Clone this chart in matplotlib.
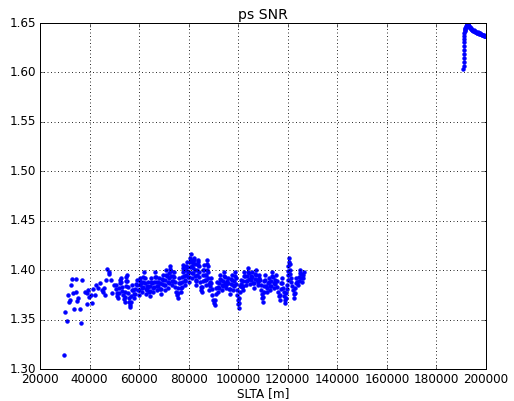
import matplotlib
matplotlib.use('Agg')
import matplotlib.pyplot as plt

# ==================== data ====================
# sparse start of the track (x in m)
slta_start = [29700, 30240, 30800, 31200, 31860, 32000, 32540, 33070, 33470, 33880,
              34440, 34690, 35100, 35500, 36180, 36710, 37120, 38200, 38900, 39130,
              39540, 39800, 40500, 40900, 41560, 42200, 42780, 43530, 44270, 44900,
              45300, 46000, 46200, 46570, 46980, 47700, 47750, 48720, 49250, 49800]
snr_start = [1.3142, 1.3574, 1.3489, 1.3746, 1.3678, 1.3698, 1.3847, 1.3907, 1.3766, 1.3604,
             1.3776, 1.3907, 1.3690, 1.3715, 1.3610, 1.3468, 1.3900, 1.3782, 1.3770, 1.3655,
             1.3800, 1.3725, 1.3745, 1.3670, 1.3806, 1.3748, 1.3850, 1.3817, 1.3866, 1.3795,
             1.3780, 1.3816, 1.3750, 1.3900, 1.4009, 1.3985, 1.3962, 1.3900, 1.3766, 1.3850]

# dense part of the track
slta_mid = [
    50500, 50750, 51000, 51250, 51500, 51700, 51900, 52100, 52300, 52500,
    52750, 53000, 53250, 53500, 53850, 54200, 54350, 54500, 54650, 54800,
    54900, 55000, 55200, 55400, 55600, 55800, 56100, 56300, 56500, 56700,
    56900, 57100, 57300, 57550, 57800, 58000, 58250, 58500, 58750, 59000,
    59250, 59500, 59800, 60000, 60200, 60350, 60500, 60750, 61000, 61300,
    61450, 61600, 61750, 62000, 62200, 62400, 62600, 62800, 63050, 63300,
    63500, 63750, 64000, 64300, 64450, 64600, 64800, 65000, 65250, 65500,
    65800, 65950, 66100, 66300, 66500, 66700, 66900, 67100, 67300, 67550,
    67800, 68000, 68250, 68500, 68800, 68950, 69100, 69300, 69500, 69750,
    70000, 70300, 70450, 70600, 70800, 71000, 71250, 71500, 71800, 71950,
    72100, 72250, 72400, 72500, 72700, 72900, 73100, 73300, 73500, 73750,
    74000, 74200, 74400, 74600, 74800, 75150, 75500, 75700, 75900, 76100,
    76300, 76550, 76800, 77000, 77150, 77300, 77450, 77600, 77700, 77800,
    78000, 78200, 78400, 78500, 78650, 78800, 78950, 79100, 79200, 79400,
    79600, 79800, 80000, 80150, 80300, 80450, 80600, 80700, 80800, 81000,
    81200, 81400, 81500, 81650, 81800, 81950, 82100, 82200, 82400, 82550,
    82700, 82850, 83000, 83150, 83300, 83450, 83600, 83700, 83800, 84000,
    84200, 84350, 84500, 84900, 85100, 85300, 85450, 85600, 85750, 85900,
    86000, 86200, 86400, 86600, 86800, 86950, 87100, 87250, 87400, 87500,
    87700, 87850, 88000, 88150, 88300, 88550, 88800, 89000, 89200, 89400,
    89600, 89800, 90150, 90500, 90700, 90900, 91100, 91300, 91650, 92000,
    92200, 92400, 92600, 92800, 93050, 93300, 93500, 93700, 93900, 94100,
    94300, 94550, 94800, 95000, 95250, 95500, 95800, 96050, 96300, 96500,
    96700, 96900, 97100, 97300, 97550, 97800, 98000, 98200, 98400, 98600,
    98800, 99000, 99200, 99350, 99500, 99750, 100000, 100200, 100350, 100500,
    100650, 100800, 101000, 101300, 101550, 101800, 101950, 102100, 102300, 102500,
    102750, 103000, 103300, 103450, 103600, 103800, 104000, 104250, 104500, 104800,
    105050, 105300, 105500, 105750, 106000, 106300, 106450, 106600, 106800, 107000,
    107250, 107500, 107800, 108050, 108300, 108500, 108750, 109000, 109300, 109550,
    109800, 110000, 110150, 110300, 110450, 110600, 110800, 111000, 111200, 111500,
    111750, 112000, 112300, 112550, 112800, 113000, 113200, 113400, 113600, 113800,
    114050, 114300, 114500, 114750, 115000, 115300, 115550, 115800, 116000, 116400,
    116800, 116950, 117100, 117300, 117500, 117750, 118000, 118300, 118550, 118800,
    119000, 119200, 119400, 119600, 119800, 119900, 120000, 120100, 120250, 120400,
    120500, 120700, 120900, 121050, 121200, 121450, 121700, 122000, 122350, 122700,
    122850, 123000, 123200, 123400, 123800, 124200, 124400, 124600, 124800, 125000,
    125250, 125500, 125800, 126050, 126300, 126500]
snr_mid = [
    1.385, 1.381, 1.377, 1.374, 1.372, 1.377, 1.382, 1.387, 1.390, 1.392,
    1.388, 1.383, 1.379, 1.375, 1.371, 1.368, 1.373, 1.378, 1.384, 1.389,
    1.393, 1.395, 1.389, 1.383, 1.377, 1.372, 1.368, 1.365, 1.363, 1.368,
    1.374, 1.380, 1.385, 1.380, 1.376, 1.372, 1.376, 1.381, 1.386, 1.390,
    1.385, 1.380, 1.375, 1.380, 1.385, 1.389, 1.392, 1.387, 1.382, 1.378,
    1.383, 1.388, 1.393, 1.398, 1.392, 1.387, 1.381, 1.376, 1.380, 1.384,
    1.388, 1.383, 1.378, 1.374, 1.379, 1.384, 1.388, 1.392, 1.387, 1.382,
    1.378, 1.383, 1.388, 1.393, 1.398, 1.393, 1.388, 1.384, 1.380, 1.384,
    1.388, 1.392, 1.387, 1.381, 1.376, 1.381, 1.386, 1.391, 1.395, 1.390,
    1.385, 1.380, 1.385, 1.390, 1.395, 1.400, 1.394, 1.388, 1.382, 1.387,
    1.392, 1.397, 1.401, 1.404, 1.399, 1.394, 1.389, 1.385, 1.389, 1.394,
    1.398, 1.393, 1.388, 1.383, 1.378, 1.375, 1.372, 1.377, 1.382, 1.387,
    1.392, 1.387, 1.382, 1.378, 1.383, 1.388, 1.393, 1.398, 1.402, 1.405,
    1.400, 1.394, 1.389, 1.385, 1.390, 1.395, 1.400, 1.404, 1.408, 1.403,
    1.398, 1.393, 1.388, 1.393, 1.398, 1.403, 1.408, 1.412, 1.416, 1.410,
    1.404, 1.397, 1.392, 1.397, 1.402, 1.407, 1.410, 1.412, 1.406, 1.400,
    1.394, 1.389, 1.385, 1.390, 1.395, 1.400, 1.405, 1.408, 1.410, 1.404,
    1.398, 1.393, 1.388, 1.383, 1.380, 1.378, 1.383, 1.389, 1.395, 1.400,
    1.405, 1.400, 1.395, 1.390, 1.385, 1.390, 1.395, 1.400, 1.406, 1.410,
    1.404, 1.398, 1.392, 1.386, 1.380, 1.384, 1.388, 1.392, 1.387, 1.381,
    1.375, 1.370, 1.367, 1.365, 1.370, 1.376, 1.382, 1.388, 1.383, 1.378,
    1.382, 1.387, 1.391, 1.395, 1.390, 1.385, 1.380, 1.384, 1.389, 1.394,
    1.398, 1.393, 1.387, 1.382, 1.385, 1.389, 1.392, 1.387, 1.381, 1.376,
    1.381, 1.386, 1.391, 1.395, 1.390, 1.385, 1.380, 1.384, 1.389, 1.394,
    1.398, 1.392, 1.386, 1.380, 1.375, 1.370, 1.366, 1.362, 1.367, 1.372,
    1.378, 1.384, 1.390, 1.386, 1.383, 1.380, 1.384, 1.389, 1.394, 1.398,
    1.394, 1.389, 1.385, 1.389, 1.394, 1.398, 1.402, 1.397, 1.391, 1.386,
    1.390, 1.394, 1.398, 1.393, 1.387, 1.382, 1.387, 1.391, 1.396, 1.400,
    1.395, 1.390, 1.385, 1.388, 1.392, 1.395, 1.390, 1.385, 1.380, 1.376,
    1.372, 1.368, 1.373, 1.378, 1.384, 1.389, 1.395, 1.390, 1.384, 1.378,
    1.382, 1.387, 1.392, 1.388, 1.384, 1.380, 1.384, 1.389, 1.394, 1.398,
    1.393, 1.387, 1.382, 1.386, 1.390, 1.395, 1.389, 1.383, 1.378, 1.374,
    1.370, 1.375, 1.381, 1.387, 1.392, 1.387, 1.382, 1.378, 1.374, 1.370,
    1.367, 1.372, 1.377, 1.381, 1.385, 1.390, 1.395, 1.399, 1.404, 1.408,
    1.412, 1.406, 1.400, 1.396, 1.392, 1.388, 1.384, 1.380, 1.376, 1.372,
    1.377, 1.382, 1.387, 1.392, 1.388, 1.385, 1.389, 1.393, 1.397, 1.400,
    1.396, 1.392, 1.388, 1.392, 1.395, 1.398]

# far end of the track
slta_end = [190900, 190930, 190960, 190990, 191020, 191050, 191080, 191110, 191140, 191170,
            191250, 191350, 191450, 191550, 191700, 191850, 192000, 192150, 192300, 192450,
            192600, 192750, 192900, 193050, 193200, 193400, 193600, 193800, 194000, 194250,
            194500, 194750, 195000, 195250, 195500, 195750, 196000, 196250, 196500, 196750,
            197000, 197250, 197500, 197750, 198000, 198250, 198500, 198750, 199000, 199250,
            199500, 199750, 200000]
snr_end = [1.603, 1.607, 1.611, 1.615, 1.619, 1.623, 1.627, 1.631, 1.634, 1.637,
           1.640, 1.642, 1.643, 1.644, 1.645, 1.646, 1.647, 1.648, 1.649, 1.650,
           1.650, 1.649, 1.648, 1.647, 1.646, 1.6455, 1.645, 1.6445, 1.644, 1.643,
           1.643, 1.642, 1.6425, 1.642, 1.641, 1.6415, 1.641, 1.640, 1.640, 1.6405,
           1.640, 1.639, 1.639, 1.6395, 1.639, 1.638, 1.638, 1.638, 1.6375, 1.637,
           1.637, 1.637, 1.6365]

x_ticks = [20000, 40000, 60000, 80000, 100000, 120000, 140000, 160000, 180000, 200000]
y_ticks = [1.30, 1.35, 1.40, 1.45, 1.50, 1.55, 1.60, 1.65]
# ====================================================================

plt.style.use('classic')
plt.rcParams['font.family'] = ['DejaVu Sans']

fig = plt.figure(figsize=(514 / 72.0, 401 / 72.0), dpi=72, facecolor='white')
ax = fig.add_axes([0.0778, 0.0798, 0.8677, 0.8628])

for xs, ys in [(slta_start, snr_start), (slta_mid, snr_mid), (slta_end, snr_end)]:
    ax.plot(xs, ys, 'o', color='b', markersize=3.8, markeredgewidth=0.5,
            markeredgecolor='b')

ax.set_xlim(20000, 200000)
ax.set_ylim(1.30, 1.65)
ax.set_xticks(x_ticks)
ax.set_yticks(y_ticks)
ax.set_xticklabels([str(v) for v in x_ticks])
ax.set_yticklabels(['%.2f' % v for v in y_ticks])
ax.tick_params(labelsize=12, direction='in', top=True, right=True)
ax.grid(True, color='k', linestyle=(0, (1, 2.5)), linewidth=0.8)

ax.set_title('ps SNR', fontsize=14, pad=4)
ax.set_xlabel('SLTA [m]', fontsize=12, labelpad=1)

fig.savefig('out.png', dpi=72, facecolor='white')
